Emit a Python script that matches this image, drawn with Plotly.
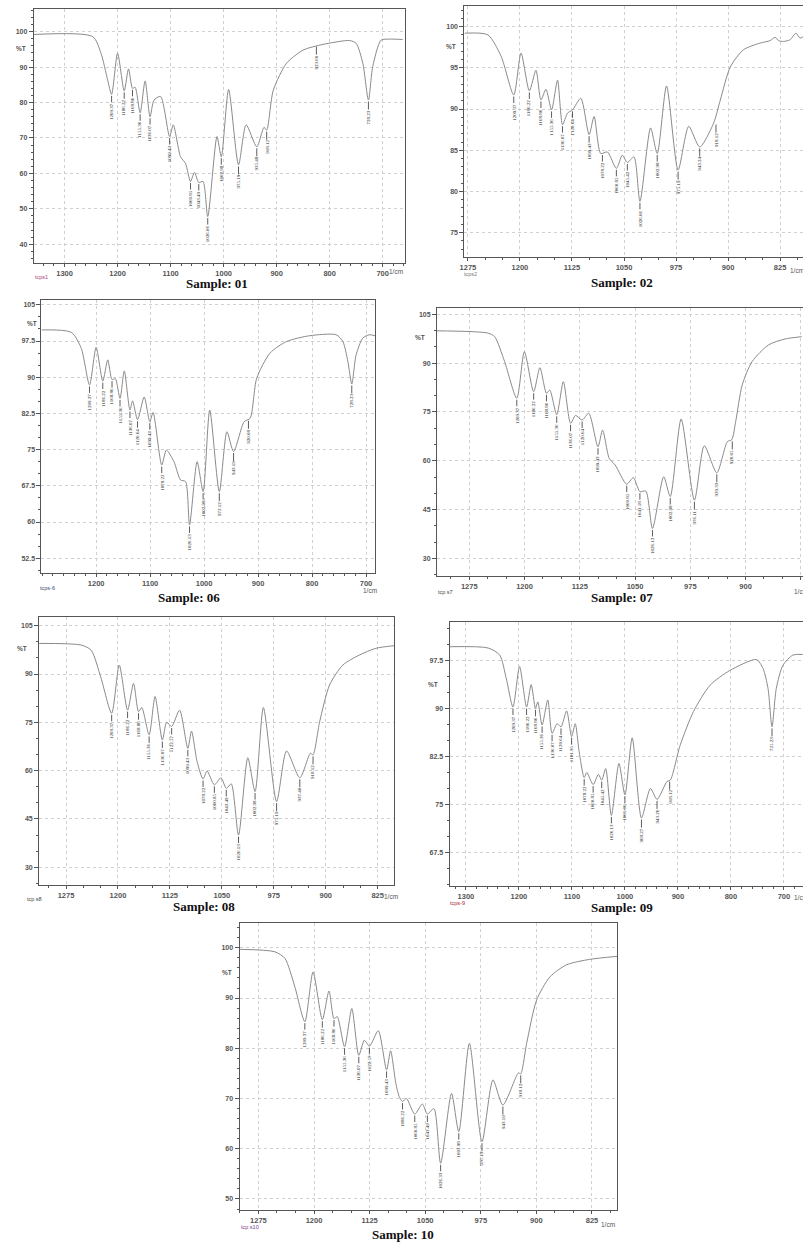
import plotly.graph_objects as go

W, H = 803, 1242

# ======================= DATA =======================
# ---- Sample 01 ----
s01_wn = [1358.1, 1246.9, 1231.3, 1218.8, 1211.3, 1200.0, 1187.5, 1179.4, 1171.9, 1166.9, 1157.5, 1148.1,
          1138.8, 1131.3, 1118.8, 1101.9, 1095.0, 1081.3, 1071.9, 1062.5, 1055.0, 1046.9, 1038.8, 1030.0,
          1012.5, 1004.4, 990.6, 971.9, 957.5, 937.5, 923.8, 918.8, 906.3, 881.3, 850.0, 812.5, 762.5,
          750.0, 737.5, 726.9, 718.8, 703.1, 687.5, 662.5]
s01_t = [99.2, 98.6, 93.9, 86.4, 82.3, 93.9, 83.3, 89.5, 84.0, 84.3, 77.1, 86.1,
         76.0, 80.7, 81.7, 70.4, 73.7, 64.7, 62.8, 57.7, 60.3, 57.4, 57.7, 47.8,
         70.4, 64.7, 83.7, 62.4, 73.7, 67.5, 73.0, 72.2, 83.5, 91.1, 94.8, 96.4, 97.5,
         96.7, 91.1, 80.7, 90.1, 97.6, 97.9, 97.8]
s01_pk_lbl = ["1209.37", "1186.22", "1168.86", "1155.36", "1136.07", "1099.43", "1060.85", "1043.49",
              "1026.06", "1002.98", "975.19", "935.48", "918.12", "823.60", "728.23"]
s01_pk_wn = [1211.3, 1187.5, 1171.9, 1157.5, 1138.8, 1101.9, 1062.5, 1046.9, 1030.0, 1004.4, 971.9, 937.5,
             918.8, 825.0, 726.9]
s01_pk_t = [82.3, 83.3, 84.0, 77.1, 76.0, 70.4, 57.7, 57.4, 47.8, 64.7, 62.4, 67.5, 72.2, 96.2, 80.7]

# ---- Sample 02 ----
s02_wn = [1279.8, 1246.3, 1227.1, 1208.9, 1198.4, 1186.4, 1176.9, 1169.7, 1162.5, 1154.4, 1145.8, 1138.6,
          1131.4, 1124.2, 1112.2, 1100.3, 1093.1, 1083.5, 1074.0, 1061.0, 1052.4, 1045.2, 1035.6, 1027.0,
          1011.7, 1002.1, 988.7, 972.0, 956.7, 940.9, 920.8, 911.2, 896.8, 877.7, 853.8, 839.4, 832.2,
          827.4, 820.2, 810.7, 802.1, 796.3, 791.5]
s02_t = [99.2, 99.0, 96.4, 91.7, 96.8, 92.2, 94.7, 91.1, 92.4, 89.9, 93.5, 88.1,
         89.5, 89.9, 91.3, 86.9, 89.1, 84.6, 84.8, 82.8, 84.4, 83.5, 84.2, 78.8,
         87.7, 84.6, 92.8, 82.6, 87.9, 85.4, 88.3, 91.1, 95.1, 97.2, 98.0, 98.3, 98.7,
         98.3, 98.2, 98.4, 99.2, 98.6, 98.8]
s02_pk_lbl = ["1209.37", "1186.22", "1168.86", "1155.36", "1136.07", "1120.64", "1099.43", "1078.22",
              "1060.85", "1045.42", "1026.06", "1002.98", "975.19", "943.24", "918.12"]
s02_pk_wn = [1208.9, 1186.4, 1169.7, 1154.4, 1138.6, 1124.2, 1100.3, 1081.1, 1061.0, 1045.2, 1027.0, 1002.1,
             972.0, 940.9, 917.4]
s02_pk_t = [91.7, 92.2, 91.1, 89.9, 88.1, 89.9, 86.9, 84.6, 82.8, 83.5, 78.8, 84.6, 82.6, 85.4, 88.3]

# ---- Sample 06 ----
s06_wn = [1301.2, 1246.0, 1227.6, 1212.3, 1200.0, 1187.7, 1178.5, 1170.6, 1164.4, 1155.8, 1147.9, 1137.4,
          1132.5, 1123.3, 1111.0, 1100.6, 1094.5, 1078.5, 1069.9, 1055.8, 1043.6, 1034.4, 1027.0, 1012.9,
          1001.8, 989.6, 971.8, 957.7, 945.4, 925.8, 914.7, 902.5, 877.9, 847.2, 804.3, 755.2, 742.9,
          733.7, 726.4, 718.4, 706.1, 693.9, 683.4]
s06_t = [99.8, 99.3, 96.0, 88.4, 96.2, 89.2, 93.6, 89.5, 89.7, 85.6, 91.3, 83.2,
         85.1, 81.2, 85.9, 80.8, 82.7, 71.8, 74.9, 72.5, 68.7, 68.4, 59.4, 72.5,
         66.3, 83.2, 66.3, 78.7, 74.6, 80.8, 81.5, 89.8, 95.0, 97.4, 98.6, 98.8, 97.4,
         93.3, 88.6, 94.6, 98.1, 98.8, 98.6]
s06_pk_lbl = ["1209.37", "1186.22", "1168.86", "1155.36", "1136.07", "1120.64", "1099.43", "1078.22",
              "1026.13", "1002.98", "972.12", "943.19", "920.08", "728.23"]
s06_pk_wn = [1212.3, 1187.7, 1170.6, 1155.8, 1137.4, 1123.3, 1100.6, 1078.5, 1027.0, 1001.8, 971.8, 945.4,
             917.8, 726.4]
s06_pk_t = [88.4, 89.2, 89.5, 85.6, 83.2, 81.2, 80.8, 71.8, 59.4, 66.3, 66.3, 74.6, 81.3, 88.6]

# ---- Sample 07 ----
s07_wn = [1318.9, 1249.5, 1240.5, 1227.1, 1210.5, 1200.2, 1187.6, 1179.1, 1170.2, 1165.7, 1156.3, 1147.3,
          1137.5, 1130.7, 1121.8, 1112.8, 1100.3, 1094.0, 1085.0, 1077.0, 1061.3, 1052.3, 1043.4, 1035.3,
          1026.3, 1011.1, 1002.2, 987.4, 969.4, 956.0, 939.0, 924.6, 918.8, 913.4, 904.5, 891.0, 868.6,
          846.2, 823.8]
s07_t = [99.9, 99.2, 98.1, 90.5, 79.2, 93.5, 81.2, 88.6, 80.7, 81.7, 74.1, 84.3,
         71.5, 73.9, 72.5, 74.6, 64.3, 69.4, 60.7, 58.7, 52.8, 54.8, 50.5, 50.7,
         39.2, 55.1, 49.0, 72.8, 47.9, 64.6, 56.3, 65.9, 66.4, 72.0, 83.3, 90.5, 95.6,
         97.4, 98.1]
s07_pk_lbl = ["1209.37", "1186.22", "1168.86", "1155.36", "1136.07", "1120.64", "1099.43", "1060.85",
              "1041.58", "1026.13", "1002.98", "976.11", "939.33", "920.05"]
s07_pk_wn = [1210.5, 1187.6, 1170.2, 1156.3, 1137.5, 1121.8, 1100.3, 1061.3, 1043.4, 1026.3, 1002.2, 969.4,
             939.0, 918.0]
s07_pk_t = [79.2, 81.2, 80.7, 74.1, 71.5, 72.5, 64.3, 52.8, 50.5, 39.2, 49.0, 47.9, 56.3, 66.4]

# ---- Sample 08 ----
s08_wn = [1313.8, 1253.1, 1238.7, 1224.4, 1209.1, 1198.1, 1186.1, 1177.5, 1170.3, 1165.6, 1155.0, 1146.4,
          1135.9, 1129.7, 1122.5, 1111.0, 1099.1, 1093.8, 1085.7, 1077.1, 1071.3, 1060.8, 1051.2, 1043.6,
          1036.4, 1025.9, 1012.5, 1002.0, 990.0, 970.9, 956.5, 937.4, 922.1, 918.3, 908.7, 894.4, 875.2,
          851.3, 827.4, 801.1]
s08_t = [99.5, 99.0, 97.4, 88.7, 77.8, 92.8, 78.8, 87.1, 78.3, 79.6, 71.1, 83.0,
         69.5, 75.0, 73.7, 78.8, 66.9, 72.3, 62.8, 57.4, 59.9, 55.6, 57.8, 54.5,
         55.9, 40.0, 64.0, 53.5, 79.6, 50.4, 66.1, 57.8, 65.4, 64.9, 75.2, 86.6, 92.8,
         95.9, 98.0, 98.8]
s08_pk_lbl = ["1209.37", "1186.22", "1168.86", "1155.36", "1136.07", "1122.57", "1099.43", "1078.22",
              "1060.85", "1043.49", "1026.13", "1002.98", "975.19", "937.40", "918.12"]
s08_pk_wn = [1209.1, 1186.1, 1170.3, 1155.0, 1135.9, 1122.5, 1099.1, 1077.1, 1060.8, 1043.6, 1025.9, 1002.0,
             970.9, 937.4, 918.3]
s08_pk_t = [77.8, 78.8, 78.3, 71.1, 69.5, 73.7, 66.9, 57.4, 55.6, 54.5, 40.0, 53.5, 50.4, 57.8, 64.9]

# ---- Sample 09 ----
s09_wn = [1330.0, 1258.1, 1236.3, 1223.8, 1211.3, 1198.8, 1185.6, 1176.9, 1168.8, 1164.4, 1156.3, 1145.6,
          1137.5, 1128.1, 1120.6, 1110.0, 1100.6, 1093.8, 1086.3, 1076.9, 1071.9, 1060.0, 1050.0, 1043.8,
          1036.3, 1025.6, 1011.3, 1000.0, 986.3, 968.8, 951.9, 939.4, 920.6, 914.4, 895.6, 870.6, 839.4,
          801.9, 751.9, 739.4, 730.0, 722.5, 714.4, 701.9, 683.1, 664.4]
s09_t = [99.6, 99.4, 98.3, 94.6, 90.2, 96.5, 90.2, 93.7, 90.0, 91.0, 87.4, 91.3,
         86.1, 87.6, 87.1, 89.6, 85.6, 87.6, 83.2, 79.2, 80.0, 78.1, 79.7, 78.8,
         80.6, 73.3, 81.4, 76.5, 85.4, 72.9, 77.5, 75.8, 78.6, 78.8, 84.3, 89.5, 93.6,
         95.9, 97.6, 96.2, 93.1, 87.1, 93.1, 96.7, 98.3, 98.4]
s09_pk_lbl = ["1209.37", "1186.22", "1168.86", "1155.36", "1136.07", "1120.64", "1101.35", "1078.22",
              "1060.85", "1045.42", "1026.13", "1001.06", "968.27", "943.26", "918.12", "725.23"]
s09_pk_wn = [1211.3, 1185.6, 1168.8, 1156.3, 1137.5, 1120.6, 1100.6, 1076.9, 1060.0, 1043.8, 1025.6, 1000.0,
             968.8, 939.4, 915.6, 722.5]
s09_pk_t = [90.2, 90.2, 90.0, 87.4, 86.1, 87.1, 85.6, 79.2, 78.1, 78.8, 73.3, 76.5, 72.9, 75.8, 78.8, 87.1]

# ---- Sample 10 ----
s10_wn = [1300.5, 1252.7, 1239.3, 1225.8, 1212.4, 1201.3, 1188.8, 1179.8, 1173.1, 1168.7, 1158.8, 1149.0,
          1139.6, 1132.0, 1125.3, 1113.3, 1102.1, 1096.7, 1089.6, 1085.1, 1080.6, 1075.3, 1064.1, 1053.8,
          1047.1, 1038.2, 1029.2, 1014.5, 1004.7, 990.4, 973.4, 958.6, 945.2, 924.2, 921.1, 913.1, 899.7,
          881.8, 859.5, 828.2, 791.1]
s10_t = [99.7, 99.2, 97.9, 92.2, 85.3, 95.2, 85.7, 91.4, 85.9, 86.3, 80.3, 87.9,
         78.6, 81.6, 80.4, 83.5, 75.7, 79.5, 73.0, 70.4, 69.4, 70.0, 66.9, 68.9,
         66.9, 68.0, 57.1, 71.0, 63.4, 81.0, 61.4, 73.7, 68.7, 75.1, 74.9, 81.0, 89.6,
         94.2, 96.6, 97.7, 98.3]
s10_pk_lbl = ["1209.37", "1186.22", "1168.86", "1155.36", "1136.07", "1122.57", "1099.43", "1086.22",
              "1060.85", "1043.49", "1026.33", "1002.98", "976.19", "943.19", "918.12"]
s10_pk_wn = [1212.4, 1188.8, 1173.1, 1158.8, 1139.6, 1125.3, 1102.1, 1080.6, 1064.1, 1047.1, 1029.2, 1004.7,
             973.4, 945.2, 921.1]
s10_pk_t = [85.3, 85.7, 85.9, 80.3, 78.6, 80.4, 75.7, 69.4, 66.9, 66.9, 57.1, 63.4, 61.4, 68.7, 74.9]

# ---- tick values / texts ----
ticks_100 = [1300, 1200, 1100, 1000, 900, 800, 700]
ticks_100b = [1200, 1100, 1000, 900, 800, 700]
ticks_75 = [1275, 1200, 1125, 1050, 975, 900, 825]
titles = ["Sample: 01", "Sample: 02", "Sample: 06", "Sample: 07", "Sample: 08", "Sample: 09", "Sample: 10"]
tags = ["tcps1", "tcps2", "tcps-6", "tcp s7", "tcp s8", "tcps-9", "tcp s10"]

# ======================= LAYOUT / STYLE =======================
panels = [
    dict(wn=s01_wn, t=s01_t, lbl=s01_pk_lbl, pwn=s01_pk_wn, pt=s01_pk_t,
         box=(29, 9, 403, 263), xr=(1358, 657), yr=(34.7, 106.4), xt=ticks_100, xm=20,
         yd=10, y0=40, ym=2, pct=(16, 49), title=(213, 283.5), cm=(393, 272), tag=(37, 277),
         tagc="#b0407a", clip=False),
    dict(wn=s02_wn, t=s02_t, lbl=s02_pk_lbl, pwn=s02_pk_wn, pt=s02_pk_t,
         box=(462.3, 6, 803, 257), xr=(1280, 792), yr=(72.05, 102.5), xt=ticks_75, xm=25,
         yd=5, y0=75, ym=1, pct=(449, 47), title=(621, 282), cm=(797, 271), tag=(468, 274),
         tagc="#777777", clip=True),
    dict(wn=s06_wn, t=s06_t, lbl=s06_pk_lbl, pwn=s06_pk_wn, pt=s06_pk_t,
         box=(36.7, 300, 372.3, 572.7), xr=(1301.3, 683.4), yr=(49.5, 106), xt=ticks_100b, xm=20,
         yd=7.5, y0=52.5, ym=2.5, pct=(27, 323), title=(185, 598), cm=(367, 590), tag=(43, 588),
         tagc="#3a4a7a", clip=False),
    dict(wn=s07_wn, t=s07_t, lbl=s07_pk_lbl, pwn=s07_pk_wn, pt=s07_pk_t,
         box=(434.7, 307.7, 803, 576), xr=(1318.8, 822), yr=(24.6, 107), xt=ticks_75, xm=25,
         yd=15, y0=30, ym=5, pct=(418, 337), title=(621, 598), cm=(801, 591), tag=(443, 592),
         tagc="#444444", clip=True),
    dict(wn=s08_wn, t=s08_t, lbl=s08_pk_lbl, pwn=s08_pk_wn, pt=s08_pk_t,
         box=(34.3, 616.7, 391.7, 885), xr=(1313.9, 801), yr=(24.5, 107.8), xt=ticks_75, xm=25,
         yd=15, y0=30, ym=5, pct=(17, 648), title=(200, 906), cm=(388, 896), tag=(30, 899),
         tagc="#444444", clip=False),
    dict(wn=s09_wn, t=s09_t, lbl=s09_pk_lbl, pwn=s09_pk_wn, pt=s09_pk_t,
         box=(447.3, 621.7, 803, 886), xr=(1331, 664), yr=(62.3, 103.5), xt=ticks_100, xm=20,
         yd=7.5, y0=67.5, ym=2.5, pct=(431, 684), title=(621, 907), cm=(801, 897), tag=(455, 903),
         tagc="#b02040", clip=True),
    dict(wn=s10_wn, t=s10_t, lbl=s10_pk_lbl, pwn=s10_pk_wn, pt=s10_pk_t,
         box=(236, 922.7, 616, 1210), xr=(1300.5, 791), yr=(47.8, 105), xt=ticks_75, xm=25,
         yd=10, y0=50, ym=2, pct=(223, 972), title=(400, 1234), cm=(607, 1224), tag=(247, 1227),
         tagc="#7a3a8a", clip=False),
]

LINE_C = "#8a8a8a"
FRAME_C = "#555555"
GRID_C = "#d0d0d0"
TICK_FONT = dict(family="Liberation Sans", size=7, color="#555555", weight="bold")

fig = go.Figure()
layout = dict(width=W, height=H, margin=dict(l=0, r=0, t=0, b=0),
              paper_bgcolor="white", plot_bgcolor="white", showlegend=False)
annotations = []


def px(xp):
    return xp / W


def py(yp):
    return 1 - yp / H


def paper_text(xy, text, font):
    return dict(x=px(xy[0]), y=py(xy[1]), xref="paper", yref="paper", text=text, showarrow=False,
                xanchor="center", yanchor="middle", font=font)


for i, p in enumerate(panels):
    n = i + 1
    xa = "xaxis" if n == 1 else f"xaxis{n}"
    ya = "yaxis" if n == 1 else f"yaxis{n}"
    xr_ = "x" if n == 1 else f"x{n}"
    yr_ = "y" if n == 1 else f"y{n}"
    x0, y0, x1, y1 = p["box"]
    layout[xa] = dict(
        domain=[px(x0), min(1.0, px(x1))], anchor=yr_, range=list(p["xr"]),
        tickvals=p["xt"], ticks="outside", ticklen=3, tickcolor=FRAME_C, tickwidth=1,
        tickfont=dict(TICK_FONT, size=7.5),
        showline=True, linecolor=FRAME_C, linewidth=1, mirror=True,
        showgrid=True, gridcolor=GRID_C, griddash="dot", gridwidth=1, zeroline=False,
        minor=dict(dtick=p["xm"], tick0=700, ticks="outside", ticklen=2, tickcolor=FRAME_C, showgrid=False),
    )
    layout[ya] = dict(
        domain=[py(y1), py(y0)], anchor=xr_, range=list(p["yr"]),
        dtick=p["yd"], tick0=p["y0"], ticks="outside", ticklen=4, tickcolor=FRAME_C, tickwidth=1,
        tickfont=TICK_FONT,
        showline=True, linecolor=FRAME_C, linewidth=1, mirror=False if p["clip"] else True,
        showgrid=True, gridcolor=GRID_C, griddash="dot", gridwidth=1, zeroline=False,
        minor=dict(dtick=p["ym"], tick0=p["y0"], ticks="outside", ticklen=2, tickcolor=FRAME_C, showgrid=False),
    )
    fig.add_trace(go.Scatter(
        x=p["wn"], y=p["t"], mode="lines", xaxis=xr_, yaxis=yr_, hoverinfo="skip",
        line=dict(color=LINE_C, width=1, shape="spline", smoothing=0.7),
    ))
    # peak labels
    for lb, wv, tv in zip(p["lbl"], p["pwn"], p["pt"]):
        annotations.append(dict(
            x=wv, y=tv, xref=xr_, yref=yr_, text=lb, textangle=-90,
            showarrow=True, arrowhead=0, arrowwidth=0.8, arrowcolor="#333333",
            ax=0, ay=17, standoff=1.5, borderpad=0,
            font=dict(family="Liberation Serif", size=5, color="#222222"),
        ))
    annotations.append(paper_text(p["pct"], "%T",
                                  dict(family="Liberation Sans", size=6.5, color="#555555", weight="bold")))
    annotations.append(paper_text(p["cm"], "1/cm",
                                  dict(family="Liberation Sans", size=6.5, color="#555555")))
    annotations.append(paper_text(p["tag"], tags[i],
                                  dict(family="Liberation Sans", size=5.5, color=p["tagc"])))
    annotations.append(paper_text(p["title"], titles[i],
                                  dict(family="Liberation Serif", size=13, color="#111111", weight="bold")))

layout["annotations"] = annotations
fig.update_layout(**layout)
fig.write_html("out.html", config={"displayModeBar": False},
               post_script="document.body.style.margin='0';document.body.style.overflow='hidden';")
